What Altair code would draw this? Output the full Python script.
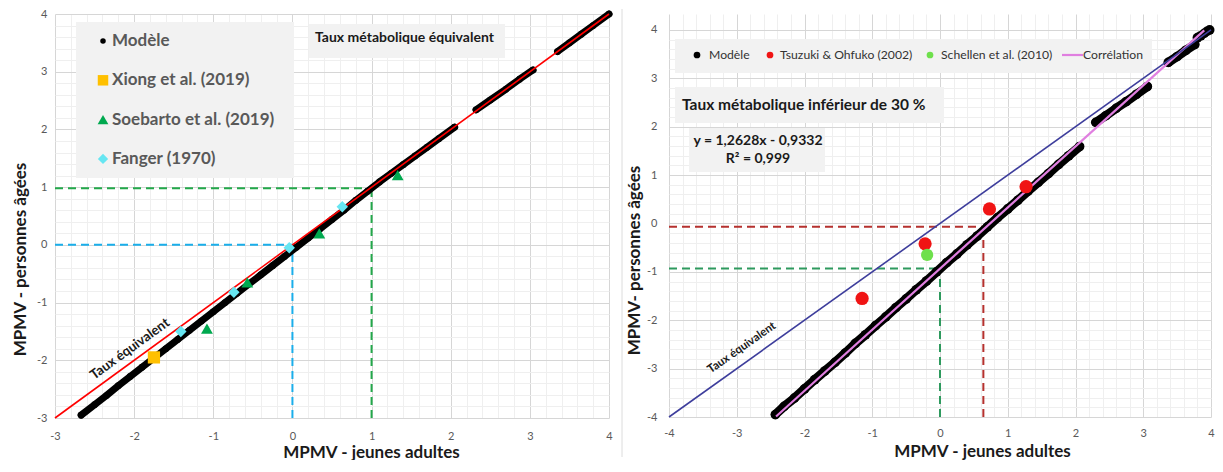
import altair as alt
import pandas as pd

# ---------------- LEFT PANEL DATA ----------------
L_model_x = [-2.67, -2.5, -2.35, -2.2, -2.05, -1.9, -1.75, -1.6, -1.45, -1.3, -1.15, -1.0,
             -0.85, -0.7, -0.55, -0.4, -0.25, -0.1, 0.05, 0.2, 0.35, 0.5, 0.65, 0.8, 0.95,
             1.1, 1.25, 1.4, 1.55, 1.7, 1.85, 2.05,
             2.32, 2.5, 2.7, 2.87, 3.04,
             3.35, 3.5, 3.65, 3.8, 4.0]
L_model_y = [-2.95, -2.77, -2.61, -2.44, -2.28, -2.12, -1.96, -1.80, -1.64, -1.48, -1.32, -1.16,
             -1.00, -0.84, -0.68, -0.52, -0.36, -0.20, -0.04, 0.12, 0.28, 0.44, 0.60, 0.77, 0.93,
             1.09, 1.24, 1.39, 1.54, 1.69, 1.84, 2.04,
             2.34, 2.51, 2.70, 2.87, 3.03,
             3.35, 3.50, 3.65, 3.80, 4.0]
L_model_seg = [1] * 32 + [2] * 5 + [3] * 5

L_xiong_x = [-1.75]
L_xiong_y = [-1.95]
L_soeb_x = [-1.08, -0.57, 0.34, 1.33]
L_soeb_y = [-1.45, -0.65, 0.20, 1.21]
L_fanger_x = [-1.41, -0.74, -0.04, 0.63]
L_fanger_y = [-1.50, -0.82, -0.05, 0.66]
L_equiv_x = [-3, 4]
L_equiv_y = [-3, 4]
L_guide_x = [1.0, 0.0]
L_guide_y = [0.98, 0.0]
L_guide_col = ["#22A84A", "#1AAEEA"]
L_series = ["Modèle", "Xiong et al. (2019)", "Soebarto et al. (2019)", "Fanger (1970)"]

# ---------------- RIGHT PANEL DATA ----------------
R_model_x = [-2.43, -2.3, -2.15, -2.0, -1.85, -1.7, -1.55, -1.4, -1.25, -1.1, -0.95, -0.8,
             -0.65, -0.5, -0.35, -0.2, -0.05, 0.1, 0.25, 0.4, 0.55, 0.7, 0.85, 1.0, 1.15,
             1.3, 1.45, 1.6, 1.75, 1.9, 2.06,
             2.30, 2.45, 2.60, 2.75, 2.90, 3.06,
             3.37, 3.50, 3.63, 3.76,
             3.80, 3.85, 3.90, 3.94, 3.98]
R_model_y = [-3.95, -3.78, -3.61, -3.42, -3.23, -3.05, -2.87, -2.68, -2.48, -2.30, -2.11, -1.93,
             -1.74, -1.56, -1.37, -1.19, -1.00, -0.81, -0.63, -0.44, -0.26, -0.07, 0.12, 0.30, 0.48,
             0.67, 0.85, 1.03, 1.22, 1.40, 1.59,
             2.09, 2.23, 2.38, 2.52, 2.67, 2.83,
             3.33, 3.45, 3.58, 3.70,
             3.84, 3.88, 3.93, 3.97, 4.0]
R_model_seg = [1] * 31 + [2] * 6 + [3] * 4 + [4] * 5

R_tsuzuki_x = [-1.15, -0.22, 0.73, 1.27]
R_tsuzuki_y = [-1.55, -0.42, 0.30, 0.76]
R_schellen_x = [-0.19]
R_schellen_y = [-0.65]
R_slope = 1.2628
R_intercept = -0.9332
R_corr_x = [-2.42, 3.9]
R_equiv_x = [-4, 4]
R_equiv_y = [-4, 4]
R_guide_x = [0.64, 0.0]
R_guide_y = [-0.07, -0.93]
R_guide_col = ["#B5312E", "#2E9A5E"]
R_series = ["Modèle", "Tsuzuki & Ohfuko (2002)", "Schellen et al. (2010)", "Corrélation"]

FONT = "Lato"
LABEL_COLOR = "#595959"


def one(**kw):
    return alt.Chart(pd.DataFrame(kw if kw else {"a": [0]}))


def axes(lo, hi, dom_hi, xtitle, ytitle, xtx, xty, ytx, yty, xlp, ylp):
    vals = [round(lo + 0.2 * i, 1) for i in range(int(round((hi - lo) / 0.2)) + 1)]
    grid = {"condition": {"test": "abs(datum.value - round(datum.value)) < 0.01", "value": "#d6d6d6"},
            "value": "#efefef"}
    lab = "abs(datum.value - round(datum.value)) < 0.01 ? toString(round(datum.value)) : ''"
    common = dict(values=vals, labelExpr=lab, gridColor=grid, domain=False, ticks=False,
                  labelOverlap=False, labelFlush=False, labelColor=LABEL_COLOR, labelFontSize=11,
                  labelFont=FONT, titleFont=FONT, titleFontWeight="bold", titleFontSize=17,
                  titleColor="#1a1a1a", titleAlign="center", titleBaseline="middle")
    ax_x = alt.Axis(title=xtitle, titleX=xtx, titleY=xty, labelPadding=xlp, **common)
    ax_y = alt.Axis(title=ytitle, titleX=ytx, titleY=yty, labelPadding=ylp, titleAngle=270, **common)
    sx = alt.Scale(domain=[lo, hi], nice=False, zero=False)
    sy = alt.Scale(domain=[lo, dom_hi], nice=False, zero=False)
    return sx, sy, ax_x, ax_y


# ---------------- LEFT PANEL ----------------
LW, LH = 554, 404
sxL, syL, axxL, axyL = axes(-3, 4, 4, "MPMV - jeunes adultes", "MPMV - personnes âgées",
                            316, 34, -35, 245, 12, 8)


def XL(f="x"):
    return alt.X(f"{f}:Q", scale=sxL, axis=axxL)


def YL(f="y"):
    return alt.Y(f"{f}:Q", scale=syL, axis=axyL)


lm_df = pd.DataFrame({"x": L_model_x, "y": L_model_y, "seg": L_model_seg})
l_model_line = alt.Chart(lm_df).mark_line(color="black", strokeWidth=7, strokeCap="round",
                                          strokeJoin="round").encode(x=XL(), y=YL(), detail="seg:N")
l_model_pts = alt.Chart(lm_df).mark_circle(color="black", size=45, opacity=1).encode(x=XL(), y=YL())
l_equiv = alt.Chart(pd.DataFrame({"x": L_equiv_x, "y": L_equiv_y})).mark_line(
    color="#FF0000", strokeWidth=1.6, strokeJoin="round").encode(x=XL(), y=YL())

lg = pd.DataFrame({"gx": L_guide_x, "gy": L_guide_y, "c": L_guide_col})
lg["lo"] = -3
l_gh = alt.Chart(lg).mark_rule(strokeDash=[8, 5], strokeWidth=2).encode(
    x=XL("lo"), x2="gx:Q", y=YL("gy"), color=alt.Color("c:N", scale=None))
l_gv = alt.Chart(lg).mark_rule(strokeDash=[8, 5], strokeWidth=2).encode(
    x=XL("gx"), y=YL("lo"), y2="gy:Q", color=alt.Color("c:N", scale=None))

l_xiong = alt.Chart(pd.DataFrame({"x": L_xiong_x, "y": L_xiong_y})).mark_point(
    shape="square", filled=True, size=150, color="#FFC000", opacity=1).encode(x=XL(), y=YL())
l_soeb = alt.Chart(pd.DataFrame({"x": L_soeb_x, "y": L_soeb_y})).mark_point(
    shape="triangle-up", filled=True, size=140, color="#00A94F", opacity=1).encode(x=XL(), y=YL())
l_fanger = alt.Chart(pd.DataFrame({"x": L_fanger_x, "y": L_fanger_y})).mark_point(
    shape="diamond", filled=True, size=130, color="#66E6F2", opacity=1).encode(x=XL(), y=YL())

l_box1 = one().mark_rect(color="#F2F2F2").encode(
    x=alt.value(21), x2=alt.value(239), y=alt.value(8), y2=alt.value(164))
l_box2 = one().mark_rect(color="#F2F2F2").encode(
    x=alt.value(254), x2=alt.value(450), y=alt.value(10), y2=alt.value(44))
l_title = one(t=["Taux métabolique équivalent"]).mark_text(
    font=FONT, fontWeight="bold", fontSize=14, color="#1a1a1a", align="left", baseline="middle").encode(
    x=alt.value(260), y=alt.value(24), text="t:N")
l_eqtxt = one(t=["Taux équivalent"]).mark_text(
    font=FONT, fontWeight="bold", fontSize=13.5, color="#1a1a1a", align="center", baseline="middle",
    angle=324).encode(x=alt.value(75), y=alt.value(335), text="t:N")

l_leg = []
sym_specs = [("circle", "black", 30), ("square", "#FFC000", 110), ("triangle-up", "#00A94F", 115),
             ("diamond", "#66E6F2", 105)]
for i, name in enumerate(L_series):
    yy = 27 + 39.3 * i
    shp, col, sz = sym_specs[i]
    l_leg.append(one(t=[name]).mark_point(shape=shp, filled=True, size=sz, color=col, opacity=1).encode(
        x=alt.value(48), y=alt.value(yy)))
    l_leg.append(one(t=[name]).mark_text(font=FONT, fontWeight="bold", fontSize=17, color=LABEL_COLOR,
                                         align="left", baseline="middle").encode(
        x=alt.value(57), y=alt.value(yy), text="t:N"))

left = alt.layer(l_box1, l_box2, l_title, *l_leg, l_gh, l_gv, l_model_line, l_model_pts, l_equiv,
                 l_xiong, l_soeb, l_fanger, l_eqtxt).properties(width=LW, height=LH)

# ---------------- RIGHT PANEL ----------------
RW, RH = 542, 403
T = 16  # blank band above the top gridline of the right panel
sxR, syR, axxR, axyR = axes(-4, 4, 4.33, "MPMV - jeunes adultes", "MPMV- personnes âgées",
                            313, 34, -35, 246, 10, 12)


def XR(f="x"):
    return alt.X(f"{f}:Q", scale=sxR, axis=axxR)


def YR(f="y"):
    return alt.Y(f"{f}:Q", scale=syR, axis=axyR)


rm_df = pd.DataFrame({"x": R_model_x, "y": R_model_y, "seg": R_model_seg})
r_model_line = alt.Chart(rm_df[rm_df["seg"] < 4]).mark_line(
    color="black", strokeWidth=9, strokeCap="round", strokeJoin="round").encode(
    x=XR(), y=YR(), detail="seg:N")
r_model_pts = alt.Chart(rm_df).mark_circle(color="black", size=95, opacity=1).encode(x=XR(), y=YR())
r_equiv = alt.Chart(pd.DataFrame({"x": R_equiv_x, "y": R_equiv_y})).mark_line(
    color="#3E3E9C", strokeWidth=1.6, strokeJoin="round").encode(x=XR(), y=YR())
corr_df = pd.DataFrame({"x": R_corr_x, "y": [R_slope * v + R_intercept for v in R_corr_x]})
r_corr = alt.Chart(corr_df).mark_line(color="#E07FE0", strokeWidth=2.2, strokeJoin="round").encode(
    x=XR(), y=YR())

rg = pd.DataFrame({"gx": R_guide_x, "gy": R_guide_y, "c": R_guide_col})
rg["lo"] = -4
r_gh = alt.Chart(rg).mark_rule(strokeDash=[8, 5], strokeWidth=2).encode(
    x=XR("lo"), x2="gx:Q", y=YR("gy"), color=alt.Color("c:N", scale=None))
r_gv = alt.Chart(rg).mark_rule(strokeDash=[8, 5], strokeWidth=2).encode(
    x=XR("gx"), y=YR("lo"), y2="gy:Q", color=alt.Color("c:N", scale=None))

r_tsu = alt.Chart(pd.DataFrame({"x": R_tsuzuki_x, "y": R_tsuzuki_y})).mark_circle(
    size=175, color="#F01414", opacity=1).encode(x=XR(), y=YR())
r_sch = alt.Chart(pd.DataFrame({"x": R_schellen_x, "y": R_schellen_y})).mark_circle(
    size=150, color="#6EE04C", opacity=1).encode(x=XR(), y=YR())

r_sep = one().mark_rule(color="#dcdcdc", strokeWidth=1).encode(
    x=alt.value(-47), y=alt.value(-5), y2=alt.value(RH + 40))
r_box1 = one().mark_rect(color="#F2F2F2").encode(
    x=alt.value(6), x2=alt.value(483), y=alt.value(T + 9), y2=alt.value(T + 43))
r_box2 = one().mark_rect(color="#F2F2F2").encode(
    x=alt.value(6), x2=alt.value(275), y=alt.value(T + 57), y2=alt.value(T + 93))
r_box3 = one().mark_rect(color="#F2F2F2").encode(
    x=alt.value(20), x2=alt.value(156), y=alt.value(T + 98), y2=alt.value(T + 142))
r_title = one(t=["Taux métabolique inférieur de 30 %"]).mark_text(
    font=FONT, fontWeight="bold", fontSize=15.5, color="#1a1a1a", align="left", baseline="middle").encode(
    x=alt.value(13), y=alt.value(T + 75), text="t:N")
r_eq = one(t=["y = 1,2628x - 0,9332"]).mark_text(
    font=FONT, fontWeight="bold", fontSize=14, color="#1a1a1a", align="center", baseline="middle").encode(
    x=alt.value(89), y=alt.value(T + 111), text="t:N")
r_r2 = one(t=["R² = 0,999"]).mark_text(
    font=FONT, fontWeight="bold", fontSize=14, color="#1a1a1a", align="center", baseline="middle").encode(
    x=alt.value(89), y=alt.value(T + 129), text="t:N")
r_eqtxt = one(t=["Taux équivalent"]).mark_text(
    font=FONT, fontWeight="bold", fontSize=11.5, color="#1a1a1a", align="center", baseline="middle",
    angle=325).encode(x=alt.value(73), y=alt.value(T + 318), text="t:N")

r_leg = []
leg_pos = [(28, 40), (101, 111), (261, 272), (393, 414)]
leg_cols = ["black", "#F01414", "#6EE04C", "#E07FE0"]
for i, name in enumerate(R_series):
    sx_, tx_ = leg_pos[i]
    if i < 3:
        r_leg.append(one(t=[name]).mark_circle(size=45, color=leg_cols[i], opacity=1).encode(
            x=alt.value(sx_), y=alt.value(T + 25)))
    else:
        r_leg.append(one(t=[name]).mark_rule(color=leg_cols[i], strokeWidth=2.2).encode(
            x=alt.value(sx_), x2=alt.value(tx_), y=alt.value(T + 25)))
    r_leg.append(one(t=[name]).mark_text(font=FONT, fontSize=12.2, color="#333333", align="left",
                                         baseline="middle").encode(
        x=alt.value(tx_), y=alt.value(T + 25), text="t:N"))

right = alt.layer(r_sep, r_box1, r_box2, r_box3, r_title, r_eq, r_r2, *r_leg, r_gh, r_gv,
                  r_model_line, r_model_pts, r_corr, r_equiv, r_tsu, r_sch, r_eqtxt).properties(
    width=RW, height=RH)

chart = alt.hconcat(left, right, spacing=8).properties(
    padding={"left": 3, "top": 0, "right": 0, "bottom": 0}
).configure(font=FONT).configure_view(strokeWidth=0)

chart.save("out.html", embed_options={"renderer": "svg", "actions": False})
